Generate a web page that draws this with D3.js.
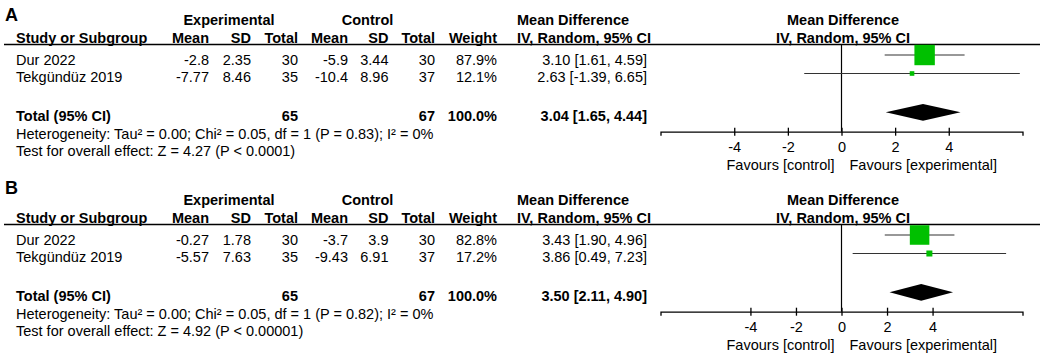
<!DOCTYPE html>
<html>
<head>
<meta charset="utf-8">
<script src="https://cdn.jsdelivr.net/npm/d3@7"></script>
<style>
  body { margin: 0; background: #fff; }
  svg { display: block; font-family: "Liberation Sans", Arial, sans-serif; }
  text { font-size: 14.5px; fill: #000; }
  .bold { font-weight: bold; }
</style>
</head>
<body>
<svg id="chart" width="1040" height="356"></svg>
<script>
// study data
var panelLabels = ["A", "B"];
var studies = ["Dur 2022", "Tekgündüz 2019"];

var expMeanA = [-2.8, -7.77], expSDA = [2.35, 8.46], expNA = [30, 35];
var ctlMeanA = [-5.9, -10.4], ctlSDA = [3.44, 8.96], ctlNA = [30, 37];
var weightA = [87.9, 12.1];
var mdA = [3.10, 2.63], lowA = [1.61, -1.39], highA = [4.59, 6.65];
var totalA = [3.04, 1.65, 4.44];
var hetA = "Heterogeneity: Tau² = 0.00; Chi² = 0.05, df = 1 (P = 0.83); I² = 0%";
var testA = "Test for overall effect: Z = 4.27 (P < 0.0001)";

var expMeanB = [-0.27, -5.57], expSDB = [1.78, 7.63], expNB = [30, 35];
var ctlMeanB = [-3.7, -9.43], ctlSDB = [3.9, 6.91], ctlNB = [30, 37];
var weightB = [82.8, 17.2];
var mdB = [3.43, 3.86], lowB = [1.90, 0.49], highB = [4.96, 7.23];
var totalB = [3.50, 2.11, 4.90];
var hetB = "Heterogeneity: Tau² = 0.00; Chi² = 0.05, df = 1 (P = 0.82); I² = 0%";
var testB = "Test for overall effect: Z = 4.92 (P < 0.00001)";

var axisTicks = [-4, -2, 0, 2, 4];
var axisLimitA = 6.75, axisLimitB = 7.95;

var svg = d3.select("#chart");

// square size grows with study weight
var boxSize = d3.scalePow().exponent(0.75).domain([0, 100]).range([0, 22.5]);
// row positions: two studies then the pooled row
var rowY = d3.scaleLinear().domain([0, 1]).range([55, 73.5]);

function sum(a) { return d3.sum(a); }

function drawPanel(label, oy, d) {
    var g = svg.append("g").attr("transform", "translate(0," + oy + ")");

    g.append("text").attr("class", "bold").attr("x", 5).attr("y", oy == 0 ? 21 : 14)
	.style("font-size", "18px").text(label);

    // header rows
    g.append("text").attr("class", "bold").attr("x", 229).attr("y", 25)
	.attr("text-anchor", "middle").text("Experimental");
    g.append("text").attr("class", "bold").attr("x", 367.5).attr("y", 25)
	.attr("text-anchor", "middle").text("Control");
    g.append("text").attr("class", "bold").attr("x", 517).attr("y", 25).text("Mean Difference");
    g.append("text").attr("class", "bold").attr("x", 843).attr("y", 25)
	.attr("text-anchor", "middle").text("Mean Difference");

    g.append("text").attr("class", "bold").attr("x", 16).attr("y", 43).text("Study or Subgroup");
    var cols = [["Mean", 209], ["SD", 251], ["Total", 298], ["Mean", 348], ["SD", 388.5], ["Total", 435], ["Weight", 497]];
    cols.forEach(function(c){
	g.append("text").attr("class", "bold").attr("x", c[1]).attr("y", 43)
	    .attr("text-anchor", "end").text(c[0]);
    });
    g.append("text").attr("class", "bold").attr("x", 517).attr("y", 43).text("IV, Random, 95% CI");
    g.append("text").attr("class", "bold").attr("x", 843).attr("y", 43)
	.attr("text-anchor", "middle").text("IV, Random, 95% CI");

    g.append("line").attr("x1", 4).attr("x2", 1040).attr("y1", 44.5).attr("y2", 44.5)
	.attr("stroke", "#000").attr("stroke-width", 1.3);

    // study rows
    studies.forEach(function(s, i){
	var y = rowY(i) + 10 - i * 1.5;
	var vals = [
	    [String(d.expMean[i]), 209], [d.expSD[i].toFixed(2), 251], [String(d.expN[i]), 298],
	    [String(d.ctlMean[i]), 348], [String(d.ctlSD[i]), 388.5], [String(d.ctlN[i]), 435],
	    [d.weight[i].toFixed(1) + "%", 497],
	    [d.md[i].toFixed(2) + " [" + d.low[i].toFixed(2) + ", " + d.high[i].toFixed(2) + "]", 647]
	];
	g.append("text").attr("x", 16).attr("y", y).text(s);
	vals.forEach(function(v){
	    g.append("text").attr("x", v[1]).attr("y", y).attr("text-anchor", "end").text(v[0]);
	});
    });

    // pooled row
    var ty = 121;
    g.append("text").attr("class", "bold").attr("x", 16).attr("y", ty).text("Total (95% CI)");
    g.append("text").attr("class", "bold").attr("x", 298).attr("y", ty).attr("text-anchor", "end").text(sum(d.expN));
    g.append("text").attr("class", "bold").attr("x", 435).attr("y", ty).attr("text-anchor", "end").text(sum(d.ctlN));
    g.append("text").attr("class", "bold").attr("x", 497).attr("y", ty).attr("text-anchor", "end")
	.text(sum(d.weight).toFixed(1) + "%");
    g.append("text").attr("class", "bold").attr("x", 647).attr("y", ty).attr("text-anchor", "end")
	.text(d.total[0].toFixed(2) + " [" + d.total[1].toFixed(2) + ", " + d.total[2].toFixed(2) + "]");
    g.append("text").attr("x", 16).attr("y", 138.5).text(d.het);
    g.append("text").attr("x", 16).attr("y", 155.5).text(d.test);

    // forest plot
    var x = d3.scaleLinear().domain([-d.limit, d.limit]).range([660.5, 1022.5]);
    var axisY = 131.7;

    g.append("line").attr("x1", x(0)).attr("x2", x(0)).attr("y1", 44.5).attr("y2", axisY)
	.attr("stroke", "#000").attr("stroke-width", 1.2);

    studies.forEach(function(s, i){
	var y = rowY(i);
	g.append("line").attr("x1", x(d.low[i])).attr("x2", x(d.high[i]))
	    .attr("y1", y).attr("y2", y).attr("stroke", "#333").attr("stroke-width", 1.2);
	var b = boxSize(d.weight[i]);
	g.append("rect").attr("x", x(d.md[i]) - b / 2).attr("y", y - b / 2)
	    .attr("width", b).attr("height", b).attr("fill", "#00c000");
    });

    var dy = 112.3, dh = 8.4;
    g.append("path")
	.attr("d", "M" + x(d.total[1]) + "," + dy + "L" + x(d.total[0]) + "," + (dy - dh)
	      + "L" + x(d.total[2]) + "," + dy + "L" + x(d.total[0]) + "," + (dy + dh) + "Z")
	.attr("fill", "#000");

    var ax = g.append("g").attr("transform", "translate(0," + axisY + ")")
	.call(d3.axisBottom(x).tickValues(axisTicks).tickSizeOuter(0).tickSize(4).tickPadding(6)
	      .tickFormat(function(t){ return String(t); }));
    ax.select(".domain").attr("stroke", "#000").attr("stroke-width", 1.3);
    ax.selectAll(".tick line").attr("y1", -4).attr("stroke-width", 1.3);
    ax.selectAll(".tick text").style("font-size", "14.5px").attr("font-family", null);
    ax.attr("font-family", null).attr("font-size", null);

    g.append("text").attr("x", x(0) - 7).attr("y", 170).attr("text-anchor", "end").text("Favours [control]");
    g.append("text").attr("x", x(0) + 8).attr("y", 170).text("Favours [experimental]");
}

drawPanel(panelLabels[0], 0, {
    expMean: expMeanA, expSD: expSDA, expN: expNA, ctlMean: ctlMeanA, ctlSD: ctlSDA, ctlN: ctlNA,
    weight: weightA, md: mdA, low: lowA, high: highA, total: totalA, het: hetA, test: testA, limit: axisLimitA
});
drawPanel(panelLabels[1], 180, {
    expMean: expMeanB, expSD: expSDB, expN: expNB, ctlMean: ctlMeanB, ctlSD: ctlSDB, ctlN: ctlNB,
    weight: weightB, md: mdB, low: lowB, high: highB, total: totalB, het: hetB, test: testB, limit: axisLimitB
});
</script>
</body>
</html>
